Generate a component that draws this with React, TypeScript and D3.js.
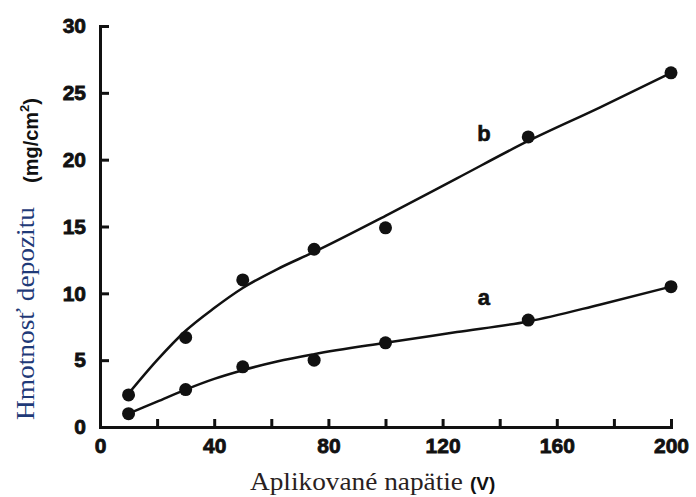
import React, { useEffect, useRef } from 'react';
import * as d3 from 'd3';

// measured points
const voltages = [10, 30, 50, 75, 100, 150, 200];
const depositA = [1.0, 2.8, 4.5, 5.0, 6.3, 8.0, 10.5];
const depositB = [2.4, 6.7, 11.0, 13.3, 14.9, 21.7, 26.5];

// smooth fitted curves
const curveVoltages = [10, 20, 30, 40, 50, 62, 75, 100, 125, 150, 175, 200];
const curveA = [1.0, 1.9, 2.8, 3.6, 4.25, 4.9, 5.45, 6.3, 7.1, 7.9, 9.15, 10.5];
const curveB = [2.5, 5.0, 7.2, 8.9, 10.4, 11.8, 13.1, 15.8, 18.6, 21.4, 23.9, 26.5];

const xTicks = [0, 20, 40, 60, 80, 100, 120, 140, 160, 180, 200];
const yTicks = [0, 5, 10, 15, 20, 25, 30];

function App() {
  const ref = useRef<SVGSVGElement>(null);

  useEffect(() => {
    const width = 696;
    const height = 497;
    const svg = d3.select(ref.current).attr('width', width).attr('height', height);
    svg.selectAll('*').remove();

    const x = d3.scaleLinear().domain([0, 200]).range([100, 671]);
    const y = d3.scaleLinear().domain([0, 30]).range([427, 26]);

    // axes, ticks pointing inward
    const xAxis = d3
      .axisBottom(x)
      .tickValues(xTicks)
      .tickSize(-8)
      .tickSizeOuter(0)
      .tickPadding(11)
      .tickFormat((d) => ((d as number) % 40 === 0 ? String(d) : ''));
    const yAxis = d3.axisLeft(y).tickValues(yTicks).tickSize(-9).tickSizeOuter(0).tickPadding(14);

    const gx = svg.append('g').attr('transform', `translate(0,${y(0)})`).call(xAxis);
    const gy = svg.append('g').attr('transform', `translate(${x(0)},0)`).call(yAxis);

    [gx, gy].forEach((g) => {
      g.select('.domain').attr('stroke', '#111').attr('stroke-width', 3).attr('stroke-linecap', 'square');
      g.selectAll('.tick line').attr('stroke', '#111').attr('stroke-width', 3);
      g.selectAll('.tick text')
        .attr('fill', '#111')
        .attr('stroke', '#111')
        .attr('stroke-width', 0.8)
        .attr('font-family', 'Liberation Sans, Arial, sans-serif')
        .attr('font-weight', 'bold')
        .attr('font-size', 21);
    });

    const line = d3
      .line<number>()
      .x((_, i) => x(curveVoltages[i]))
      .y((d) => y(d))
      .curve(d3.curveMonotoneX);

    [curveA, curveB].forEach((c) => {
      svg
        .append('path')
        .attr('d', line(c))
        .attr('fill', 'none')
        .attr('stroke', '#111')
        .attr('stroke-width', 2.5);
    });

    [depositA, depositB].forEach((s) => {
      svg
        .append('g')
        .selectAll('circle')
        .data(s)
        .enter()
        .append('circle')
        .attr('cx', (_, i) => x(voltages[i]))
        .attr('cy', (d) => y(d))
        .attr('r', 6.5)
        .attr('fill', '#111');
    });

    // series labels
    const lab = (t: string, vx: number, vy: number) =>
      svg
        .append('text')
        .attr('x', x(vx))
        .attr('y', y(vy))
        .attr('text-anchor', 'middle')
        .attr('font-family', 'Liberation Sans, Arial, sans-serif')
        .attr('font-weight', 'bold')
        .attr('font-size', 22)
        .attr('fill', '#111')
        .attr('stroke', '#111')
        .attr('stroke-width', 0.6)
        .text(t);
    lab('b', 134.5, 21.4);
    lab('a', 134.5, 9.1);

    // x title
    svg
      .append('text')
      .attr('x', 250)
      .attr('y', 490)
      .attr('fill', '#2a1f1f')
      .attr('font-family', 'Liberation Serif, Times New Roman, serif')
      .attr('font-size', 25)
      .attr('textLength', 213)
      .attr('lengthAdjust', 'spacingAndGlyphs')
      .text('Aplikované napätie');
    svg
      .append('text')
      .attr('x', 470)
      .attr('y', 490)
      .attr('font-family', 'Liberation Sans, Arial, sans-serif')
      .attr('font-weight', 'bold')
      .attr('font-size', 19)
      .attr('fill', '#111')
      .text('(V)');

    // y title
    svg
      .append('text')
      .attr('transform', 'translate(34,420) rotate(-90)')
      .attr('font-family', 'Liberation Serif, Times New Roman, serif')
      .attr('font-size', 25)
      .attr('textLength', 213)
      .attr('lengthAdjust', 'spacingAndGlyphs')
      .attr('fill', '#1f3a78')
      .text('Hmotnosť depozitu');

    const yu = svg
      .append('text')
      .attr('transform', 'translate(38,183) rotate(-90)')
      .attr('font-family', 'Liberation Sans, Arial, sans-serif')
      .attr('font-weight', 'bold')
      .attr('font-size', 20)
      .attr('fill', '#111');
    yu.append('tspan').text('(mg/cm');
    yu.append('tspan').attr('font-size', 13).attr('dy', -9).text('2');
    yu.append('tspan').attr('dy', 9).text(')');
  }, []);

  return (
    <div>
      <svg ref={ref} style={{ position: 'absolute', left: 0, top: 0, background: '#fff' }}></svg>
    </div>
  );
}

export default App;
